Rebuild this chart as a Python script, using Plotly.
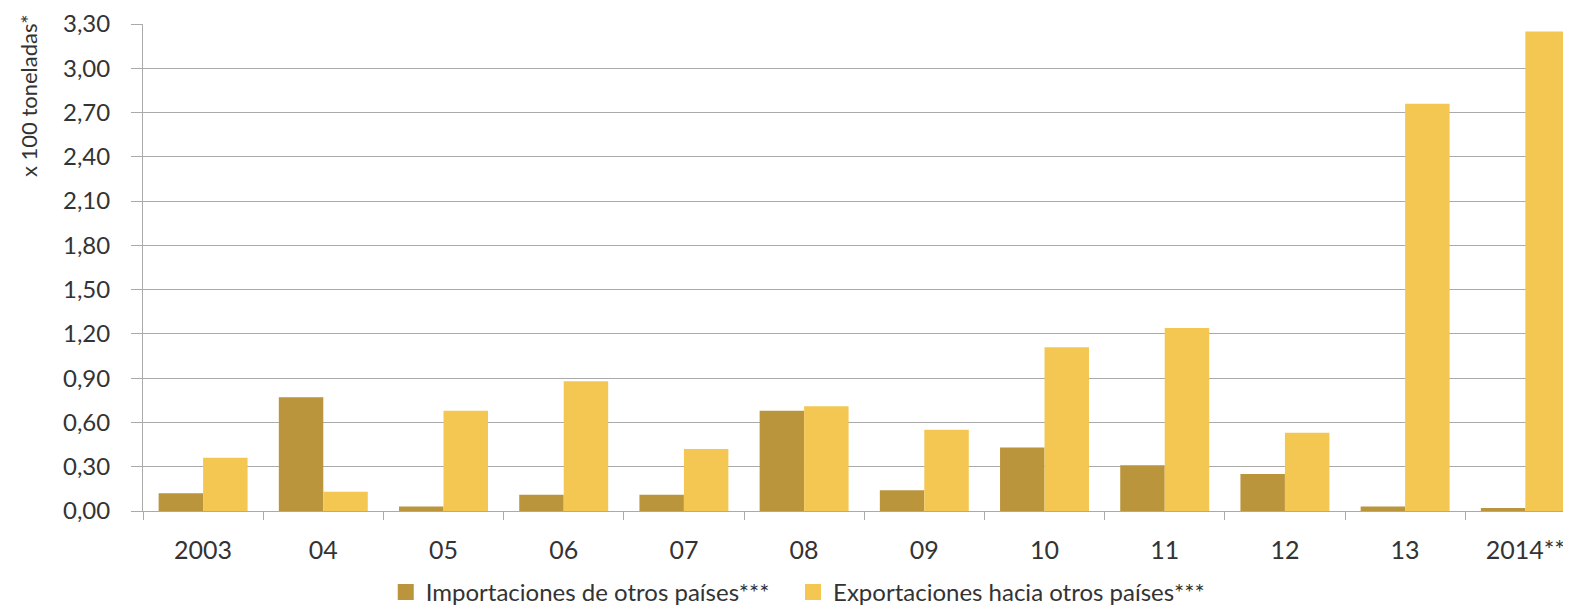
import plotly.graph_objects as go

categories = ["2003", "04", "05", "06", "07", "08", "09", "10", "11", "12", "13", "2014**"]
importaciones = [0.12, 0.77, 0.03, 0.11, 0.11, 0.68, 0.14, 0.43, 0.31, 0.25, 0.03, 0.02]
exportaciones = [0.36, 0.13, 0.68, 0.88, 0.42, 0.71, 0.55, 1.11, 1.24, 0.53, 2.76, 3.25]
y_ticks = [0.0, 0.3, 0.6, 0.9, 1.2, 1.5, 1.8, 2.1, 2.4, 2.7, 3.0, 3.3]
series_names = ["Importaciones de otros países***", "Exportaciones hacia otros países***"]
series_colors = ["#BA953B", "#F3C752"]

FONT = "Lato, Open Sans, sans-serif"
TXT = "#333333"
GRID = "#aaaaaa"

fig = go.Figure()
for vals, name, col in zip([importaciones, exportaciones], series_names, series_colors):
    fig.add_trace(go.Bar(x=categories, y=vals, name=name, showlegend=False,
                         marker=dict(color=col, line=dict(width=0))))
# legend entries with larger square swatches, one legend per entry
for name, col, lg in zip(series_names, series_colors, ["legend", "legend2"]):
    fig.add_trace(go.Scatter(x=[None], y=[None], mode="markers", name=name, legend=lg,
                             marker=dict(symbol="square", size=16, color=col)))

legend_common = dict(orientation="h", y=-0.121, yanchor="top", xanchor="left",
                     font=dict(size=24, color=TXT), itemwidth=30,
                     bgcolor="rgba(0,0,0,0)")

fig.update_layout(
    template="none",
    width=1563, height=598,
    margin=dict(l=135, r=0, t=16, b=95, autoexpand=False),
    plot_bgcolor="white", paper_bgcolor="white",
    barmode="group", bargap=0.26, bargroupgap=0,
    separators=",.",
    font=dict(family=FONT, size=24, color=TXT),
    showlegend=True,
    legend=dict(x=0.170, **legend_common),
    legend2=dict(x=0.4552, **legend_common),
    xaxis=dict(type="category", range=[-0.5, 11.38], tickson="boundaries",
               ticks="outside", ticklen=8, tickcolor=GRID, tickwidth=1,
               showline=True, linecolor=GRID, linewidth=1, automargin=False,
               showgrid=False, ticklabelstandoff=17, tickfont=dict(size=25, color=TXT)),
    yaxis=dict(range=[0, 3.3], tickvals=y_ticks, tickformat=".2f",
               ticks="outside", ticklen=11, tickcolor=GRID, tickwidth=1,
               showline=True, linecolor=GRID, linewidth=1, automargin=False,
               showgrid=True, gridcolor=GRID, gridwidth=1,
               ticklabelstandoff=16, tickfont=dict(size=24, color=TXT),
               zeroline=False),
    annotations=[dict(text="x 100 toneladas*", xref="paper", yref="paper",
                      x=-0.0805, y=0.852, xanchor="center", yanchor="middle",
                      textangle=-90, showarrow=False,
                      font=dict(size=22, color=TXT, family=FONT))],
)

fig.write_html("out.html")
